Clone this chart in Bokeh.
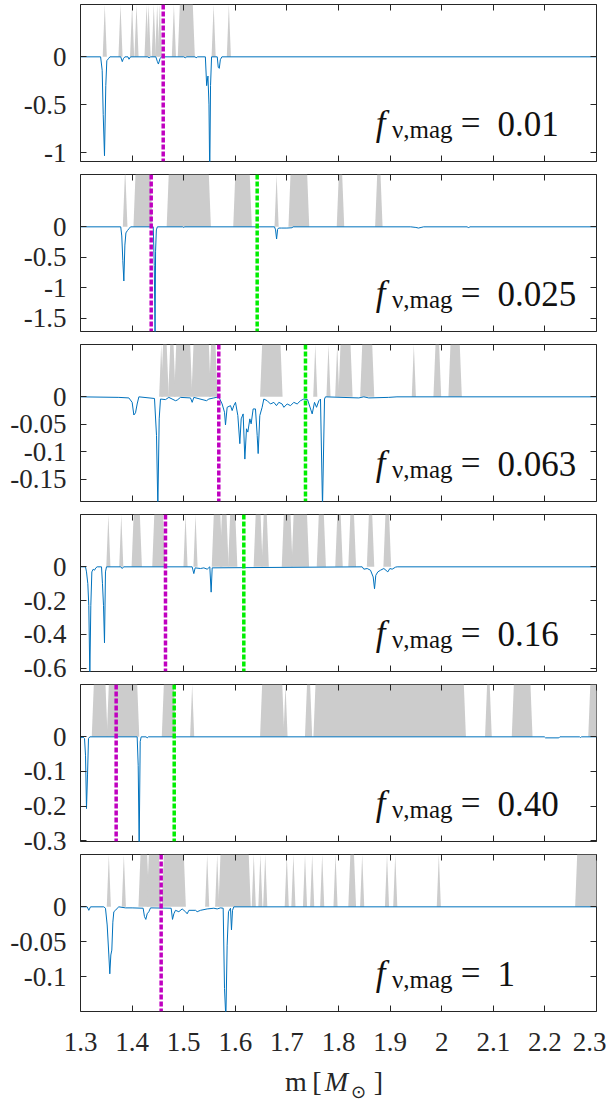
from bokeh.plotting import figure
from bokeh.models import Range1d, FixedTicker, LinearAxis, Span, Label
from bokeh.layouts import column
from bokeh.embed import file_html
from bokeh.resources import INLINE

# ---------------- data ----------------
x_ticks = [1.3, 1.4, 1.5, 1.6, 1.7, 1.8, 1.9, 2.0, 2.1, 2.2, 2.3]
x_tick_labels = ["1.3", "1.4", "1.5", "1.6", "1.7", "1.8", "1.9", "2", "2.1", "2.2", "2.3"]

f_values = ["0.01", "0.025", "0.063", "0.16", "0.40", "1"]
y_min = [-1.09, -1.72, -0.19, -0.62, -0.302, -0.15]
y_ticks = [[0, -0.5, -1], [0, -0.5, -1, -1.5], [0, -0.05, -0.1, -0.15],
           [0, -0.2, -0.4, -0.6], [0, -0.1, -0.2, -0.3], [0, -0.05, -0.1]]
y_tick_labels = [["0", "-0.5", "-1"], ["0", "-0.5", "-1", "-1.5"], ["0", "-0.05", "-0.1", "-0.15"],
                 ["0", "-0.2", "-0.4", "-0.6"], ["0", "-0.1", "-0.2", "-0.3"], ["0", "-0.05", "-0.1"]]

magenta_m = [1.4603, 1.437, 1.568, 1.4647, 1.3691, 1.4563]
green_m = [None, 1.6424, 1.736, 1.6165, 1.4816, None]

m1 = [1.300, 1.339, 1.342, 1.344, 1.3465, 1.349, 1.351, 1.354, 1.357, 1.378, 1.381, 1.383, 1.386, 1.392,
      1.394, 1.397, 1.430, 1.433, 1.436, 1.446, 1.449, 1.451, 1.454, 1.457, 1.500, 1.503, 1.506, 1.522,
      1.524, 1.527, 1.542, 1.5445, 1.547, 1.549, 1.5505, 1.552, 1.554, 1.565, 1.567, 1.569, 1.571, 1.574, 2.300]
v1 = [0, 0, -0.14, -0.6, -1.03, -0.3, -0.04, -0.02, 0, 0, -0.05, -0.02, 0, 0,
      -0.025, 0, 0, -0.01, 0, 0, -0.05, -0.075, -0.02, 0, 0, -0.01, 0, 0,
      -0.01, 0, 0, -0.3, -0.2, -0.5, -1.25, -0.3, 0, 0, -0.11, -0.12, -0.03, 0, 0]

m2 = [1.300, 1.378, 1.380, 1.382, 1.384, 1.386, 1.388, 1.391, 1.394, 1.397, 1.441, 1.443, 1.4445, 1.4455,
      1.447, 1.449, 1.498, 1.500, 1.502, 1.676, 1.678, 1.680, 1.682, 1.684, 1.690, 1.700, 1.710, 1.712,
      1.940, 1.950, 1.955, 1.960, 1.965, 2.050, 2.052, 2.054, 2.300]
v2 = [0, 0, -0.15, -0.55, -0.89, -0.3, -0.1, -0.06, -0.03, 0, 0, -0.64, -1.8, -0.4,
      -0.05, 0, 0, -0.01, 0, 0, -0.05, -0.2, -0.04, -0.02, -0.02, -0.02, -0.015, 0,
      0, -0.01, -0.02, -0.01, 0, 0, -0.02, 0, 0]

m3 = [1.300, 1.3743, 1.3937, 1.4001, 1.4034, 1.4066, 1.4098, 1.4131, 1.4434, 1.4473, 1.4499, 1.4525,
      1.4550, 1.4647, 1.4712, 1.4841, 1.4873, 1.4938, 1.5132, 1.5164, 1.5196, 1.5442, 1.5487, 1.5584,
      1.5680, 1.5745, 1.5791, 1.5810, 1.5842, 1.5907, 1.5939, 1.5971, 1.6004, 1.6049, 1.6088, 1.6114,
      1.6152, 1.6185, 1.6217, 1.6243, 1.6282, 1.6307, 1.6346, 1.6391, 1.6424, 1.6443, 1.6475, 1.6520,
      1.6553, 1.6618, 1.6682, 1.6747, 1.6798, 1.6844, 1.6908, 1.6940, 1.7005, 1.7070, 1.7134, 1.7199,
      1.7264, 1.7328, 1.7400, 1.7490, 1.7535, 1.7574, 1.7620, 1.7651, 1.7690, 1.7729, 1.7748, 1.8393,
      1.8490, 1.8587, 1.8971, 1.9133, 2.300]
v3 = [0, -0.001, -0.002, -0.010, -0.033, -0.029, -0.013, 0, -0.003, -0.070, -0.200, -0.040,
      -0.004, -0.005, -0.001, -0.007, -0.006, -0.001, -0.002, -0.010, -0.001, -0.007, -0.004, -0.002,
      0, -0.013, -0.028, -0.051, -0.019, -0.016, -0.025, -0.016, -0.010, -0.034, -0.085, -0.040,
      -0.031, -0.113, -0.058, -0.064, -0.040, -0.049, -0.022, -0.022, -0.070, -0.103, -0.034, -0.019,
      -0.004, -0.007, -0.013, -0.010, -0.016, -0.010, -0.013, -0.019, -0.013, -0.016, -0.010, -0.013,
      -0.007, -0.004, -0.005, -0.031, -0.010, -0.019, -0.007, -0.004, -0.200, -0.004, 0, -0.002,
      0, -0.002, -0.001, 0, 0]

m4 = [1.300, 1.3097, 1.3116, 1.3142, 1.3161, 1.3181, 1.3200, 1.3220, 1.3246, 1.3271, 1.3297, 1.3323,
      1.3407, 1.3426, 1.3446, 1.3465, 1.3484, 1.3504, 1.3780, 1.3808, 1.3835, 1.5164, 1.5196, 1.5222,
      1.5326, 1.5390, 1.5455, 1.5506, 1.5532, 1.5552, 1.8459, 1.8491, 1.8556, 1.8620, 1.8672, 1.8698,
      1.8723, 1.8762, 1.8814, 1.8879, 1.8956, 1.8995, 1.9040, 1.9105, 1.9137, 2.300]
v4 = [0, 0, -0.03, -0.10, -0.23, -0.65, -0.23, -0.03, -0.014, -0.02, -0.006, 0,
      0, -0.10, -0.23, -0.45, -0.03, 0, 0, -0.01, 0, 0, -0.04, -0.006,
      -0.01, -0.006, -0.014, 0, -0.15, -0.006, 0, -0.014, -0.01, -0.02, -0.06, -0.13,
      -0.05, -0.03, -0.02, -0.01, -0.03, -0.01, -0.014, -0.002, 0, 0]

m5 = [1.300, 1.3052, 1.3078, 1.3097, 1.3116, 1.3136, 1.3155, 1.3181, 1.4098, 1.4118, 1.4137, 1.4157,
      1.4176, 1.4270, 1.4292, 1.4315, 2.1990, 2.2012, 2.2270, 2.2290, 2.2670, 2.2690, 2.2710, 2.300]
v5 = [-0.003, -0.001, -0.005, -0.053, -0.207, -0.11, -0.005, 0, 0, -0.082, -0.32, -0.014,
      0, 0, -0.003, 0, 0, -0.003, -0.003, 0, 0, -0.002, 0, 0]

m6 = [1.300, 1.3129, 1.3161, 1.3194, 1.3452, 1.3484, 1.3517, 1.3549, 1.3568, 1.3588, 1.3607, 1.3627,
      1.3646, 1.3678, 1.3711, 1.3743, 1.3872, 1.4001, 1.4214, 1.4240, 1.4266, 1.4292, 1.4324, 1.4357,
      1.4757, 1.4783, 1.4809, 1.4841, 1.4906, 1.4970, 1.5035, 1.5067, 1.5100, 1.5229, 1.5261, 1.5326,
      1.5455, 1.5584, 1.5649, 1.5713, 1.5765, 1.5791, 1.5817, 1.5842, 1.5868, 1.5907, 1.5926, 1.5946,
      1.5971, 2.300]
v6 = [0, 0, -0.005, 0, 0, -0.002, -0.026, -0.069, -0.096, -0.069, -0.062, -0.022,
      -0.007, -0.005, -0.002, 0, -0.0015, -0.0015, -0.002, -0.014, -0.018, -0.010, -0.007, -0.0015,
      -0.002, -0.018, -0.010, -0.005, -0.007, -0.003, -0.007, -0.010, -0.005, -0.005, -0.007, -0.005,
      -0.003, -0.002, -0.003, -0.0015, -0.002, -0.117, -0.16, -0.055, -0.007, -0.002, -0.033, -0.005,
      0, 0]

# gray bands: (start, end) of each band's flat top, in m
g1_start = [1.347, 1.3775, 1.400, 1.4085, 1.428, 1.432, 1.442, 1.4486, 1.4537, 1.481, 1.4925, 1.558, 1.5875]
g1_end   = [1.347, 1.3775, 1.400, 1.4085, 1.428, 1.432, 1.442, 1.4486, 1.4537, 1.481, 1.5176, 1.558, 1.5875]
g2_start = [1.386, 1.4066, 1.471, 1.600, 1.680, 1.707, 1.8006, 1.875]
g2_end   = [1.387, 1.4357, 1.5487, 1.628, 1.680, 1.7393, 1.8071, 1.8814]
g3_start = [1.4564, 1.460, 1.4739, 1.4855, 1.519, 1.553, 1.652, 1.755, 1.7806, 1.7975, 1.8039, 1.846, 1.946, 1.988, 2.017]
g3_end   = [1.4564, 1.467, 1.4803, 1.5126, 1.5487, 1.5616, 1.6876, 1.755, 1.7806, 1.7975, 1.8233, 1.8653, 1.946, 1.995, 2.035]
g4_start = [1.354, 1.379, 1.403, 1.443, 1.5035, 1.5229, 1.5583, 1.574, 1.590, 1.6395, 1.655, 1.694, 1.713,
            1.7618, 1.7977, 1.823, 1.8589, 1.891]
g4_end   = [1.354, 1.379, 1.415, 1.460, 1.5035, 1.5229, 1.571, 1.583, 1.600, 1.649, 1.661, 1.707, 1.739,
            1.7716, 1.8042, 1.830, 1.8653, 1.898]
g5_start = [1.3258, 1.3549, 1.4615, 1.5164, 1.652, 1.6973, 1.739, 1.7554, 2.088, 2.1398, 2.288]
g5_end   = [1.3484, 1.4099, 1.4809, 1.5164, 1.691, 1.6973, 1.745, 2.0429, 2.093, 2.172, 2.32]
g6_start = [1.3549, 1.384, 1.4163, 1.4324, 1.4615, 1.5455, 1.5649, 1.5713, 1.6358, 1.6486, 1.658, 1.6997,
            1.7126, 1.7351, 1.749, 1.7684, 1.7942, 1.823, 1.8459, 1.894, 1.910, 1.9944, 2.2626]
g6_end   = [1.3549, 1.384, 1.4292, 1.4518, 1.5002, 1.5455, 1.5649, 1.626, 1.6358, 1.6486, 1.658, 1.6997,
            1.7126, 1.7351, 1.749, 1.7684, 1.7942, 1.830, 1.8459, 1.894, 1.910, 1.9944, 2.32]

lines_m = [m1, m2, m3, m4, m5, m6]
lines_v = [v1, v2, v3, v4, v5, v6]
gray_start = [g1_start, g2_start, g3_start, g4_start, g5_start, g6_start]
gray_end = [g1_end, g2_end, g3_end, g4_end, g5_end, g6_end]

# x-axis title pieces (text, centre in m)
x_title_text = ["m", "[", "M", "⊙", "]"]
x_title_pos = [1.7176, 1.7583, 1.7961, 1.8388, 1.8775]

# ---------------- style ----------------
SERIF = "'Liberation Serif', 'Times New Roman', Times, serif"
SYMB = "'DejaVu Sans', sans-serif"
INK = "#262626"
GRAY = "#cccccc"
BLUE = "#0072BD"
MAGENTA = "#c000c0"
GREEN = "#00ee00"
SLANT = 0.004
FRAME_H = 157
W = 606
LEFT = 80
RIGHT = 10
title_fonts = [SERIF, SERIF, SERIF, SYMB, SERIF]
title_styles = ["normal", "normal", "italic", "normal", "normal"]
title_sizes = ["28px", "28px", "28px", "18px", "28px"]
title_lift = [19, 19, 19, 9, 19]


def style_axis(ax, ticks, labels, show, standoff=12):
    ax.ticker = FixedTicker(ticks=ticks)
    ax.major_tick_in = 6
    ax.major_tick_out = 0
    ax.major_tick_line_color = INK
    ax.minor_tick_line_color = None
    ax.axis_line_color = None
    if show:
        ax.major_label_overrides = dict(zip(ticks, labels))
        ax.major_label_text_font = SERIF
        ax.major_label_text_font_size = "27px"
        ax.major_label_text_color = INK
        ax.major_label_standoff = standoff
    else:
        ax.major_label_overrides = {t: "" for t in ticks}
        ax.major_label_text_font_size = "0px"
        ax.major_label_text_color = None
        ax.major_label_standoff = 0


figs = []
n = len(f_values)
for i in range(n):
    ymin = y_min[i]
    ymax = -ymin / 2.0
    last = i == n - 1
    top_b = 4 if i == 0 else 1
    bot_b = 58 if last else 12
    p = figure(width=W, height=top_b + FRAME_H + bot_b,
               x_range=Range1d(1.3, 2.3), y_range=Range1d(ymin, ymax),
               output_backend="svg", toolbar_location=None,
               min_border_left=LEFT, min_border_right=RIGHT,
               min_border_top=top_b, min_border_bottom=bot_b,
               background_fill_color="white", border_fill_color="white",
               outline_line_color=INK, outline_line_width=1)
    p.grid.visible = False

    # gray bands
    xs, ys = [], []
    for a, b in zip(gray_start[i], gray_end[i]):
        xs.append([a - SLANT, a, b, b + SLANT])
        ys.append([0, ymax, ymax, 0])
    p.patches(xs, ys, fill_color=GRAY, line_color=None)

    # blue line
    p.line(lines_m[i], lines_v[i], line_color=BLUE, line_width=1)

    # dashed lines
    p.add_layout(Span(location=magenta_m[i], dimension="height", line_color=MAGENTA,
                      line_width=3.5, line_dash="5 2"))
    if green_m[i] is not None:
        p.add_layout(Span(location=green_m[i], dimension="height", line_color=GREEN,
                          line_width=3.5, line_dash="5 2"))

    # axes
    style_axis(p.yaxis[0], y_ticks[i], y_tick_labels[i], True, standoff=14)
    style_axis(p.xaxis[0], x_ticks, x_tick_labels, last, standoff=21)
    ax_top = LinearAxis()
    style_axis(ax_top, x_ticks, x_tick_labels, False)
    p.add_layout(ax_top, "above")
    ax_right = LinearAxis()
    style_axis(ax_right, y_ticks[i], y_tick_labels[i], False)
    p.add_layout(ax_right, "right")

    # panel label  f_{nu,mag} = value
    common = dict(x_units="data", y_units="data", y=ymin, text_color="#111111",
                  text_align="left", text_baseline="alphabetic")
    p.add_layout(Label(x=1.872, y_offset=38, text="f", text_font=SERIF, text_font_style="italic",
                       text_font_size="35px", **common))
    p.add_layout(Label(x=1.9035, y_offset=32, text="ν,mag", text_font=SERIF,
                       text_font_size="25px", **common))
    p.add_layout(Label(x=2.037, y_offset=38, text="=", text_font=SERIF,
                       text_font_size="35px", **common))
    p.add_layout(Label(x=2.108, y_offset=38, text=f_values[i], text_font=SERIF,
                       text_font_size="35px", **common))
    figs.append(p)

# x-axis title  m [M_sun]  in its own strip below the last panel
xt = figure(width=W, height=31, x_range=Range1d(1.3, 2.3), y_range=Range1d(0, 1),
            x_axis_location=None, y_axis_location=None,
            output_backend="svg", toolbar_location=None,
            min_border_left=LEFT, min_border_right=RIGHT, min_border_top=0, min_border_bottom=0,
            background_fill_color="white", border_fill_color="white", outline_line_color=None)
xt.grid.visible = False
for txt, pos, fnt, sty, sz, lift in zip(x_title_text, x_title_pos, title_fonts,
                                       title_styles, title_sizes, title_lift):
    xt.add_layout(Label(x=pos, y=0, x_units="data", y_units="data", y_offset=lift, text=txt,
                        text_font=fnt, text_font_style=sty, text_font_size=sz, text_color=INK,
                        text_align="center", text_baseline="alphabetic"))
figs.append(xt)

layout = column(*figs, spacing=0)
open("out.html", "w").write(file_html(layout, INLINE))
